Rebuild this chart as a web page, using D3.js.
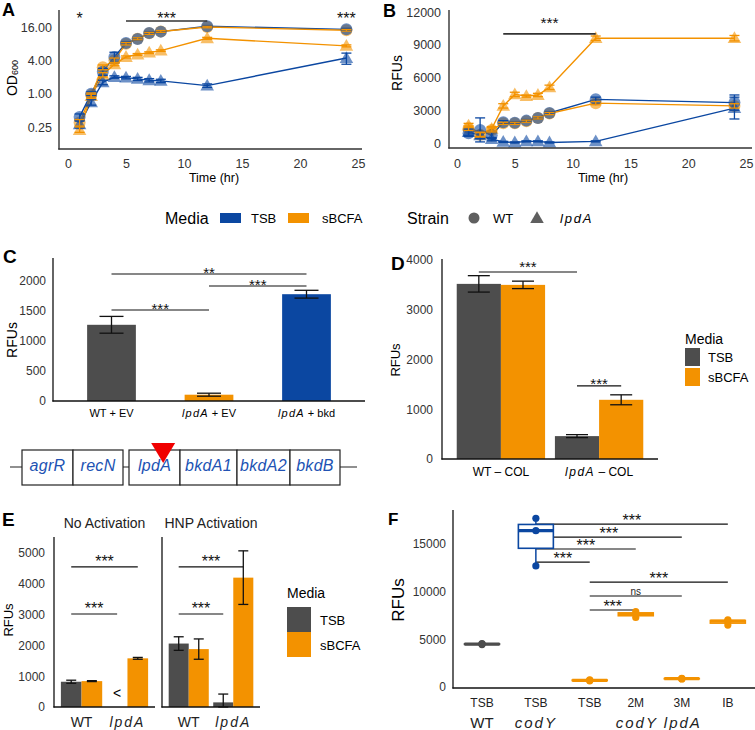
<!DOCTYPE html>
<html><head><meta charset="utf-8">
<script src="https://cdn.jsdelivr.net/npm/d3@7"></script>
<style>body{margin:0;background:#fff}</style>
</head><body>
<svg id="fig" width="755" height="730"></svg>
<script>
// ================= DATA =================
const timeHr=[1,2,3,4,5,6,7,8,12,24];
// Panel A : OD600
const odWT_TSB=[0.38,1.0,2.5,4.6,8.2,9.7,12.5,13.2,16.5,14.5];
const odWT_TSB_sd=[0.05,0.08,0.35,1.0,0.4,0.4,0.5,0.5,0.5,0.6];
const odWT_sBCFA=[0.30,0.95,3.0,4.0,8.0,9.8,12.3,13.3,16.0,14.0];
const odWT_sBCFA_sd=[0.04,0.08,0.3,0.4,0.4,0.4,0.5,0.5,0.5,0.5];
const odLpdA_TSB=[0.28,0.70,1.6,2.0,1.95,1.85,1.75,1.7,1.4,4.4];
const odLpdA_TSB_sd=[0.04,0.08,0.15,0.1,0.1,0.12,0.12,0.12,0.1,1.0];
const odLpdA_sBCFA=[0.22,0.9,2.2,3.4,4.6,5.1,5.5,6.0,10.0,7.3];
const odLpdA_sBCFA_sd=[0.03,0.08,0.2,0.2,0.2,0.2,0.2,0.2,0.4,0.3];
const odTicks=[0.25,1,4,16];
// Panel B : RFUs
const rfWT_TSB=[900,1200,700,1900,1850,2050,2300,2750,4000,3700];
const rfWT_TSB_sd=[300,1100,300,150,100,100,100,100,200,700];
const rfWT_sBCFA=[1350,750,1200,1800,1800,2000,2300,2700,3650,3400];
const rfWT_sBCFA_sd=[200,200,200,100,100,100,100,100,150,200];
const rfLpdA_TSB=[1000,700,350,100,50,150,150,50,150,3200];
const rfLpdA_TSB_sd=[300,300,150,50,50,50,50,50,50,1000];
const rfLpdA_sBCFA=[1600,800,1300,3400,4450,4300,4400,5100,9600,9600];
const rfLpdA_sBCFA_sd=[200,200,200,200,200,100,150,200,200,250];
const rfTicks=[0,3000,6000,9000,12000];
const timeTicks=[0,5,10,15,20,25];
// Panel C
const cCats=["WT+EV","lpdA+EV","lpdA+bkd"];
const cVals=[1270,105,1780];
const cErr=[140,25,65];
const cTicks=[0,500,1000,1500,2000];
const cSig=[[1,3,2117,"**"],[2,3,1917,"***"],[1,2,1517,"***"]];
// Panel D
const dCats=["WT-COL","lpdA-COL"];
const dTSB=[3520,460], dTSB_sd=[165,30];
const dSBCFA=[3500,1190], dSBCFA_sd=[75,100];
const dTicks=[0,1000,2000,3000,4000];
// Gene diagram
const geneNames=["agrR","recN","lpdA","bkdA1","bkdA2","bkdB"];
const geneSizes=[51,50,51,57,53,50];
const geneOperon=[0,0,1,1,1,1];
const insertionGene="lpdA", insertionFrac=0.67;
// Panel E
const eFacets=["No Activation","HNP Activation"];
const eStrains=["WT","lpdA"];
const eTSB=[[820,null],[2060,150]], eTSB_sd=[[50,null],[220,270]];
const eSBCFA=[[840,1580],[1880,4200]], eSBCFA_sd=[[15,30],[330,870]];
const eTicks=[0,1000,2000,3000,4000,5000];
// Panel F
const fCats=["TSB","TSB","TSB","2M","3M","IB"];
const fGroups=["WT","codY","codY lpdA","codY lpdA","codY lpdA","codY lpdA"];
const fVals=[[4450,4500,4550],[17700,16400,12700],[650,700,750],[7300,7650,7900],[850,900,870],[6500,6900,7050]];
const fTicks=[0,5000,10000,15000];
const fSig=[[1,5,17090,"***"],[1,4,15720,"***"],[1,3,14470,"***"],[1,2,13100,"***"],[2,5,11000,"***"],[2,4,9540,"ns"],[2,3,8070,"***"]];

// ================= HELPERS =================
const svg=d3.select("#fig");
const FONT='"Liberation Sans", Arial, Helvetica, sans-serif';
svg.style("font-family",FONT);
const BLUE="#0B47A1", ORANGE="#F39200", GRAY="#4D4D4D", TICK="#333", GENE="#2152B3";
const mediaCol=m=>m==="TSB"?BLUE:ORANGE;

function T(x,y,parts,o={}){
  const t=svg.append("text").attr("x",x).attr("y",y)
    .attr("font-size",o.size||12).attr("text-anchor",o.anchor||"middle")
    .attr("dominant-baseline",o.base||"central").attr("fill",o.fill||"#000");
  if(o.bold) t.attr("font-weight","bold");
  if(o.rotate) t.attr("transform",`rotate(-90,${x},${y})`);
  (Array.isArray(parts)?parts:[{t:parts,i:o.italic}]).forEach(p=>{
    const s=t.append("tspan").text(p.t);
    if(p.i){s.attr("font-style","italic").attr("letter-spacing",o.ls??1.5);}
    if(p.sub){s.attr("font-size",p.sub).attr("dy",p.dy||3);}
  });
  return t;
}
function rich(s){
  const m=s.match(/^(lpdA|codY lpdA|codY)(.*)$/);
  if(!m) return [{t:s}];
  return [{t:m[1],i:true},{t:m[2]}];
}
function L(x1,y1,x2,y2,c="#000",w=1.2){
  return svg.append("line").attr("x1",x1).attr("y1",y1).attr("x2",x2).attr("y2",y2).attr("stroke",c).attr("stroke-width",w);
}
function yTicks(scale,x,vals,fmt,pad,size){
  svg.append("g").attr("transform",`translate(${x},0)`)
    .call(d3.axisLeft(scale).tickValues(vals).tickFormat(fmt).tickSize(0).tickPadding(pad))
    .call(g=>g.select(".domain").remove())
    .attr("font-size",size).attr("font-family",FONT)
    .selectAll("text").attr("fill",TICK);
}
function xTicks(scale,y,vals,fmt,pad,size){
  svg.append("g").attr("transform",`translate(0,${y})`)
    .call(d3.axisBottom(scale).tickValues(vals).tickFormat(fmt).tickSize(0).tickPadding(pad))
    .call(g=>g.select(".domain").remove())
    .attr("font-size",size).attr("font-family",FONT)
    .selectAll("text").attr("fill",TICK);
}
// asterisk glyph centre sits ~0.58em above the baseline
function stars(x,yLine,label,size,off){
  T(x,yLine-off+0.58*size,label,{size:size,base:"alphabetic",fill:"#111"});
}
function errBar(x,lo,hi,cap,c,w=1.3){
  L(x,lo,x,hi,c,w); L(x-cap/2,lo,x+cap/2,lo,c,w); L(x-cap/2,hi,x+cap/2,hi,c,w);
}
const symTri=d3.symbol(d3.symbolTriangle,80);
function drawTS(xS,yS,series){
  const line=d3.line().x((d,i)=>xS(timeHr[i])).y(d=>yS(d));
  series.forEach(s=>svg.append("path").attr("d",line(s.v)).attr("fill","none")
    .attr("stroke",mediaCol(s.media)).attr("stroke-width",1.4));
  [...series].reverse().forEach(s=>s.v.forEach((v,i)=>{
    const x=xS(timeHr[i]), y=yS(v);
    if(s.strain==="WT") svg.append("circle").attr("cx",x).attr("cy",y).attr("r",6)
      .attr("fill",mediaCol(s.media)).attr("fill-opacity",0.6);
    else svg.append("path").attr("d",symTri()).attr("transform",`translate(${x},${y+1})`)
      .attr("fill",mediaCol(s.media)).attr("fill-opacity",0.6);
  }));
  series.forEach(s=>s.v.forEach((v,i)=>{
    const x=xS(timeHr[i]);
    errBar(x,yS(Math.max(v-s.e[i],yS.domain()[0]*0.8)),yS(v+s.e[i]),10,mediaCol(s.media),1.3);
  }));
}

// ================= PANEL A =================
{
  const xA=d3.scaleLinear().domain([0,25]).range([68,358]);
  const yA=d3.scaleLog().base(2).domain([0.25,16]).range([127,27]);
  T(2,16,"A",{size:18,bold:true,anchor:"start",base:"alphabetic"});
  drawTS(xA,yA,[
    {strain:"WT",media:"TSB",v:odWT_TSB,e:odWT_TSB_sd},
    {strain:"lpdA",media:"TSB",v:odLpdA_TSB,e:odLpdA_TSB_sd},
    {strain:"WT",media:"sBCFA",v:odWT_sBCFA,e:odWT_sBCFA_sd},
    {strain:"lpdA",media:"sBCFA",v:odLpdA_sBCFA,e:odLpdA_sBCFA_sd}]);
  L(59,10,59,149.6,"#333",1.4); L(58.3,149,362,149,"#333",1.4);
  yTicks(yA,59,odTicks,d3.format(".2f"),7,12.5);
  xTicks(xA,149,timeTicks,d3.format("d"),10.5,12.5);
  T(214,178,"Time (hr)",{size:12.5});
  T(12,78,[{t:"OD"},{t:"600",sub:9,dy:3}],{size:14,rotate:true});
  stars(xA(1),21,"*",16,6);
  L(xA(5),21,xA(12),21,"#333",1.6); stars((xA(5)+xA(12))/2,21,"***",16,6);
  stars(xA(24),21,"***",16,6);
}
// ================= PANEL B =================
{
  const xB=d3.scaleLinear().domain([0,25]).range([457,746]);
  const yB=d3.scaleLinear().domain([0,12000]).range([143,12]);
  T(383,17,"B",{size:18,bold:true,anchor:"start",base:"alphabetic"});
  drawTS(xB,yB,[
    {strain:"WT",media:"TSB",v:rfWT_TSB,e:rfWT_TSB_sd},
    {strain:"lpdA",media:"TSB",v:rfLpdA_TSB,e:rfLpdA_TSB_sd},
    {strain:"WT",media:"sBCFA",v:rfWT_sBCFA,e:rfWT_sBCFA_sd},
    {strain:"lpdA",media:"sBCFA",v:rfLpdA_sBCFA,e:rfLpdA_sBCFA_sd}]);
  L(449,10,449,148.6,"#333",1.4); L(448.3,148,752,148,"#333",1.4);
  yTicks(yB,449,rfTicks,d3.format("d"),8,12.5);
  xTicks(xB,148,timeTicks,d3.format("d"),11.5,12.5);
  T(603,178,"Time (hr)",{size:12.5});
  T(397,73,"RFUs",{size:14,rotate:true});
  L(xB(4),yB(10000),xB(12),yB(10000),"#333",1.6);
  stars((xB(4)+xB(12))/2,yB(10000),"***",15.5,15);
}
// ================= LEGEND A/B =================
{
  T(165,218,"Media",{size:16,anchor:"start"});
  svg.append("rect").attr("x",220).attr("y",213).attr("width",21).attr("height",10).attr("fill",BLUE);
  T(251,218,"TSB",{size:13,anchor:"start"});
  svg.append("rect").attr("x",288).attr("y",213).attr("width",21).attr("height",10).attr("fill",ORANGE);
  T(322,218,"sBCFA",{size:13,anchor:"start"});
  T(407,218,"Strain",{size:16,anchor:"start"});
  svg.append("circle").attr("cx",474).attr("cy",218).attr("r",5.5).attr("fill","#5f5f5f");
  T(493,218,"WT",{size:13,anchor:"start"});
  svg.append("path").attr("d",symTri()).attr("transform","translate(537,219)").attr("fill","#5f5f5f");
  T(560,218,[{t:"lpdA",i:true}],{size:13,anchor:"start",ls:1.8});
}
// ================= PANEL C =================
{
  const xC=d3.scaleLinear().domain([0.4,3.6]).range([53,365]);
  const yC=d3.scaleLinear().domain([0,2000]).range([401,281]);
  const colC=[GRAY,ORANGE,BLUE];
  T(3,263,"C",{size:19,bold:true,anchor:"start",base:"alphabetic"});
  cVals.forEach((v,i)=>{
    svg.append("rect").attr("x",xC(i+0.75)).attr("width",xC(i+1.25)-xC(i+0.75))
      .attr("y",yC(v)).attr("height",yC(0)-yC(v)).attr("fill",colC[i]);
  });
  cVals.forEach((v,i)=>errBar(xC(i+1),yC(v-cErr[i]),yC(v+cErr[i]),24,"#111",1.3));
  L(53,258,53,401.6,"#111",1.3); L(52.4,401,365,401,"#111",1.3);
  yTicks(yC,53,cTicks,d3.format("d"),7,12);
  cCats.forEach((c,i)=>{
    const m=c.split("+");
    T(xC(i+1),413,[{t:m[0],i:m[0]==="lpdA"},{t:" + "+m[1]}],{size:11,ls:1.2});
  });
  T(12,340,"RFUs",{size:14,rotate:true});
  cSig.forEach(([a,b,v,lab])=>{L(xC(a),yC(v),xC(b),yC(v),"#111",1.1);stars((xC(a)+xC(b))/2,yC(v),lab,15,4.5);});
}
// ================= PANEL D =================
{
  const xD=d3.scaleLinear().domain([0.4,2.6]).range([442,658]);
  const yD=d3.scaleLinear().domain([0,4000]).range([459,260]);
  T(391,270,"D",{size:19,bold:true,anchor:"start",base:"alphabetic"});
  dCats.forEach((c,i)=>{
    const g=i+1;
    svg.append("rect").attr("x",xD(g-0.45)).attr("width",xD(g)-xD(g-0.45)).attr("y",yD(dTSB[i])).attr("height",yD(0)-yD(dTSB[i])).attr("fill",GRAY);
    svg.append("rect").attr("x",xD(g)).attr("width",xD(g+0.45)-xD(g)).attr("y",yD(dSBCFA[i])).attr("height",yD(0)-yD(dSBCFA[i])).attr("fill",ORANGE);
  });
  dCats.forEach((c,i)=>{
    const g=i+1;
    errBar(xD(g-0.225),yD(dTSB[i]-dTSB_sd[i]),yD(dTSB[i]+dTSB_sd[i]),22,"#111",1.3);
    errBar(xD(g+0.225),yD(dSBCFA[i]-dSBCFA_sd[i]),yD(dSBCFA[i]+dSBCFA_sd[i]),22,"#111",1.3);
  });
  L(442,259,442,459.6,"#111",1.3); L(441.4,459,658,459,"#111",1.3);
  yTicks(yD,442,dTicks,d3.format("d"),9,12);
  dCats.forEach((c,i)=>{
    const m=c.split("-");
    T(xD(i+1),472,[{t:m[0],i:m[0]==="lpdA"},{t:" \u2013 "+m[1]}],{size:12,ls:1.5});
  });
  T(395,360,"RFUs",{size:13,rotate:true});
  L(xD(0.775),yD(3760),xD(1.775),yD(3760),"#111",1.1); stars((xD(0.775)+xD(1.775))/2,yD(3760),"***",15,9);
  L(xD(1.775),yD(1470),xD(2.225),yD(1470),"#111",1.1); stars(xD(2),yD(1470),"***",15,6);
  T(685,339,"Media",{size:14,anchor:"start"});
  svg.append("rect").attr("x",685).attr("y",348).attr("width",15).attr("height",18).attr("fill",GRAY);
  svg.append("rect").attr("x",685).attr("y",368).attr("width",15).attr("height",18).attr("fill",ORANGE);
  T(708,357,"TSB",{size:13,anchor:"start"});
  T(708,377,"sBCFA",{size:13,anchor:"start"});
}
// ================= GENE DIAGRAM =================
{
  const gap=6;
  const total=d3.sum(geneSizes)+gap;
  const xG=d3.scaleLinear().domain([0,total]).range([22,340]);
  L(10,467,357,467,"#222",1.2);
  let pos=0;
  geneNames.forEach((g,i)=>{
    if(i>0&&geneOperon[i]!==geneOperon[i-1]) pos+=gap;
    const x0=xG(pos), x1=xG(pos+geneSizes[i]);
    svg.append("rect").attr("x",x0).attr("y",450).attr("width",x1-x0).attr("height",35)
      .attr("fill","#fff").attr("stroke","#222").attr("stroke-width",1.2);
    T((x0+x1)/2,465,g,{size:16,italic:true,fill:GENE,ls:0.3});
    if(g===insertionGene){
      const xi=xG(pos+geneSizes[i]*insertionFrac);
      svg.append("path").attr("d",`M${xi-12},443 L${xi+12},443 L${xi},463 Z`).attr("fill","#F00000");
    }
    pos+=geneSizes[i];
  });
}
// ================= PANEL E =================
{
  const yE=d3.scaleLinear().domain([0,5000]).range([707,553]);
  const facetX=[d3.scaleLinear().domain([0.4,2.6]).range([54,155]),d3.scaleLinear().domain([0.4,2.6]).range([162,260])];
  T(2,526,"E",{size:19,bold:true,anchor:"start",base:"alphabetic"});
  eFacets.forEach((f,fi)=>{
    const xE=facetX[fi];
    T((xE.range()[0]+xE.range()[1])/2,523,f,{size:14,fill:"#222"});
    eStrains.forEach((s,i)=>{
      const g=i+1;
      const vt=eTSB[fi][i], vs=eSBCFA[fi][i];
      if(vt!==null) svg.append("rect").attr("x",xE(g-0.45)).attr("width",xE(g)-xE(g-0.45)).attr("y",yE(vt)).attr("height",yE(0)-yE(vt)).attr("fill",GRAY);
      else T(xE(g-0.225),693,"<",{size:14});
      svg.append("rect").attr("x",xE(g)).attr("width",xE(g+0.45)-xE(g)).attr("y",yE(vs)).attr("height",yE(0)-yE(vs)).attr("fill",ORANGE);
    });
    eStrains.forEach((s,i)=>{
      const g=i+1;
      const vt=eTSB[fi][i], vs=eSBCFA[fi][i];
      if(vt!==null) errBar(xE(g-0.225),yE(Math.max(0,vt-eTSB_sd[fi][i])),yE(vt+eTSB_sd[fi][i]),10,"#111",1.3);
      errBar(xE(g+0.225),yE(vs-eSBCFA_sd[fi][i]),yE(vs+eSBCFA_sd[fi][i]),10,"#111",1.3);
      T(xE(g),722,rich(s),{size:14,fill:"#222",ls:2});
    });
    L(xE.range()[0],537,xE.range()[0],707.6,"#111",1.3);
    L(xE.range()[0]-0.6,707,xE.range()[1],707,"#111",1.3);
    L(xE(0.775),yE(4550),xE(2.225),yE(4550),"#111",1.1); stars((xE(0.775)+xE(2.225))/2,yE(4550),"***",16,9);
    L(xE(0.775),yE(3020),xE(1.775),yE(3020),"#111",1.1); stars((xE(0.775)+xE(1.775))/2,yE(3020),"***",16,9);
  });
  yTicks(yE,54,eTicks,d3.format("d"),9,12);
  T(8,620,"RFUs",{size:13,rotate:true});
  T(287,593,"Media",{size:14,anchor:"start"});
  svg.append("rect").attr("x",287).attr("y",607).attr("width",24).attr("height",25).attr("fill",GRAY);
  svg.append("rect").attr("x",287).attr("y",632).attr("width",24).attr("height",25).attr("fill",ORANGE);
  T(320,620,"TSB",{size:13,anchor:"start"});
  T(320,645,"sBCFA",{size:13,anchor:"start"});
}
// ================= PANEL F =================
{
  const groupNames=[...new Set(fGroups)];
  const GROUP_GAP=0.17;
  const slot=i=>i+groupNames.indexOf(fGroups[i])*GROUP_GAP;
  const xF=d3.scaleLinear().domain([-0.63,5.93]).range([453,755]);
  const yF=d3.scaleLinear().domain([0,15000]).range([687,544]);
  const gCol={"WT":GRAY,"codY":BLUE,"codY lpdA":ORANGE};
  T(388,525,"F",{size:17,bold:true,anchor:"start",base:"alphabetic"});
  fSig.forEach(([a,b,v,lab])=>{
    const x1=xF(slot(a)), x2=xF(slot(b));
    L(x1,yF(v),x2,yF(v),"#111",1.1);
    if(lab==="ns") T((x1+x2)/2,yF(v)-5,"ns",{size:10,fill:"#222"});
    else stars((x1+x2)/2,yF(v),lab,16,7);
  });
  const hw=0.38;
  fVals.forEach((vals,i)=>{
    const s=vals.slice().sort(d3.ascending);
    const q1=d3.quantile(s,0.25), md=d3.quantile(s,0.5), q3=d3.quantile(s,0.75);
    const c=gCol[fGroups[i]], cx=xF(slot(i));
    L(cx,yF(q3),cx,yF(s[s.length-1]),c,1.5);
    L(cx,yF(q1),cx,yF(s[0]),c,1.5);
    svg.append("rect").attr("x",xF(slot(i)-hw)).attr("width",xF(slot(i)+hw)-xF(slot(i)-hw))
      .attr("y",yF(q3)).attr("height",Math.max(0.1,yF(q1)-yF(q3))).attr("fill","#fff").attr("stroke",c).attr("stroke-width",1.6);
    L(xF(slot(i)-hw),yF(md),xF(slot(i)+hw),yF(md),c,3.2);
    vals.forEach(v=>svg.append("circle").attr("cx",cx).attr("cy",yF(v)).attr("r",3.6).attr("fill",c));
  });
  L(453,510,453,688.6,"#111",1.3); L(452.4,688,755,688,"#111",1.3);
  yTicks(yF,453,fTicks,d3.format("d"),7,12);
  fCats.forEach((c,i)=>T(xF(slot(i)),703,c,{size:12,fill:"#222"}));
  groupNames.forEach(g=>{
    const idx=fGroups.map((d,i)=>d===g?i:-1).filter(i=>i>=0);
    const cx=(xF(slot(idx[0]))+xF(slot(idx[idx.length-1])))/2;
    T(cx,722,rich(g),{size:15,fill:"#222",ls:2});
  });
  T(398,600,"RFUs",{size:17,rotate:true});
}
</script>
</body></html>
